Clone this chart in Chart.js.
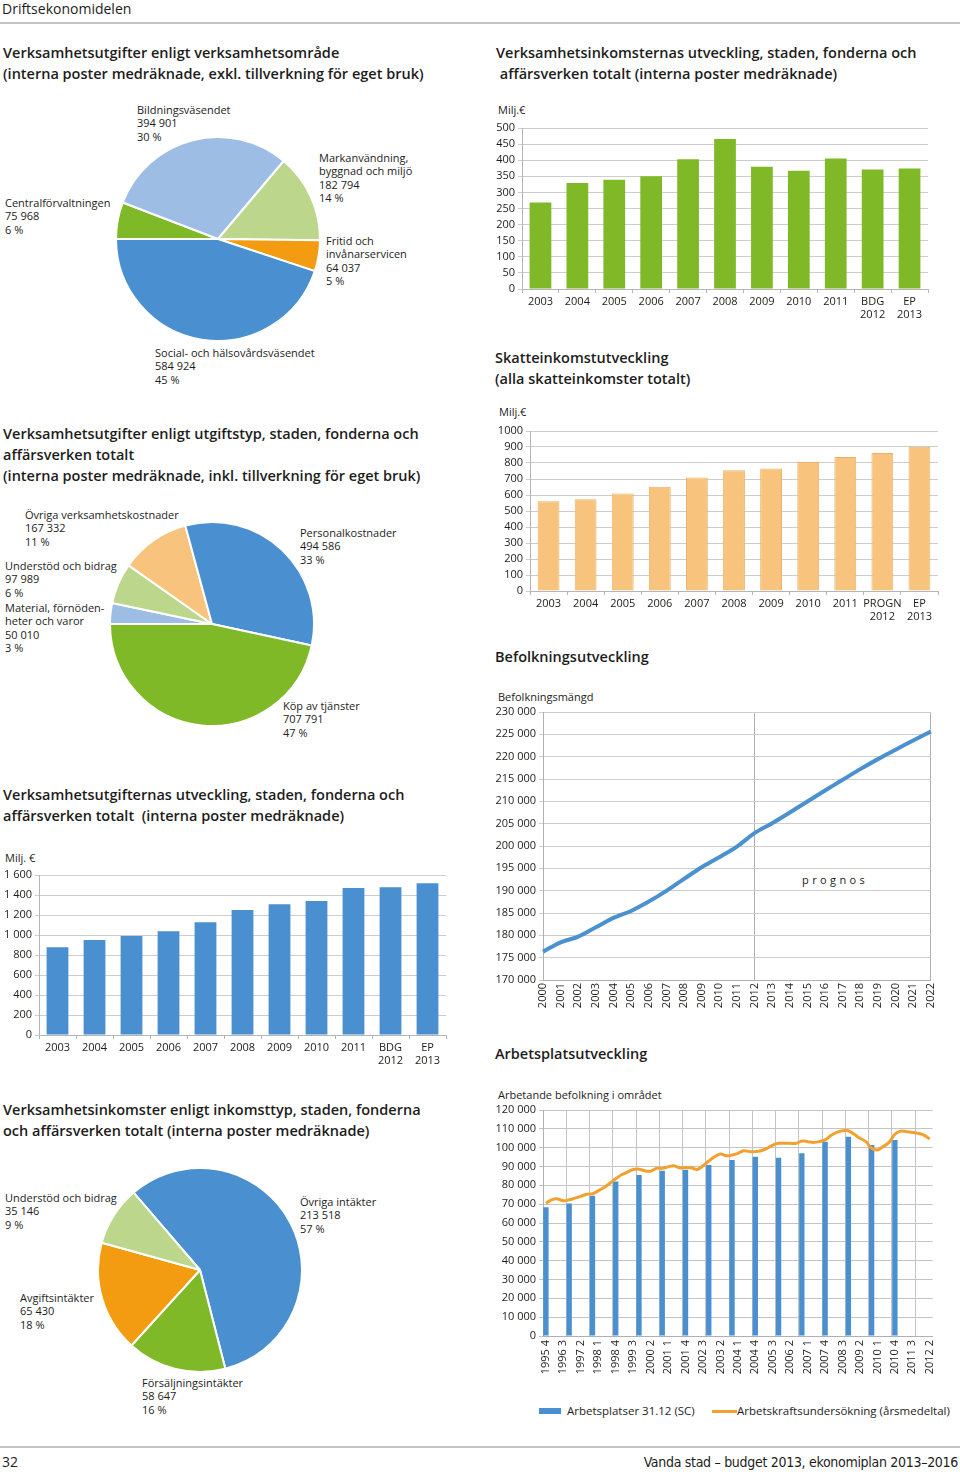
<!DOCTYPE html>
<html>
<head>
<meta charset="utf-8">
<script src="https://cdn.jsdelivr.net/npm/chart.js@4"></script>
<style>
  html, body { margin: 0; padding: 0; background: #fff; }
  body { width: 960px; height: 1475px; position: relative; overflow: hidden;
         font-family: "Open Sans", sans-serif; color: #1d1d1b; }
  .abs { position: absolute; white-space: nowrap; }
  .title { font-size: 14.5px; font-weight: 600; line-height: 21px; }
  .lbl { font-size: 11px; line-height: 13.4px; }
  .ax { font-size: 11px; line-height: 14px; }
  canvas { position: absolute; }
  .rule { position: absolute; left: 0; width: 960px; height: 2px; background: #c4c4c4; }
</style>
</head>
<body>

<div class="abs" style="left:2px;top:0px;font-size:14px;line-height:18px;">Driftsekonomidelen</div>
<div class="rule" style="top:22px;"></div>

<div class="abs title" style="left:3px;top:42px;">Verksamhetsutgifter enligt verksamhetsområde<br>(interna poster medräknade, exkl. tillverkning för eget bruk)</div>
<div class="abs title" style="left:496px;top:42px;">Verksamhetsinkomsternas utveckling, staden, fonderna och<br>&nbsp;affärsverken totalt (interna poster medräknade)</div>

<div class="abs lbl" style="left:137px;top:103px;">Bildningsväsendet<br>394 901<br>30 %</div>
<div class="abs lbl" style="left:319px;top:151px;">Markanvändning,<br>byggnad och miljö<br>182 794<br>14 %</div>
<div class="abs lbl" style="left:5px;top:196px;">Centralförvaltningen<br>75 968<br>6 %</div>
<div class="abs lbl" style="left:326px;top:234px;">Fritid och<br>invånarservicen<br>64 037<br>5 %</div>
<div class="abs lbl" style="left:155px;top:346px;">Social- och hälsovårdsväsendet<br>584 924<br>45 %</div>

<div class="abs ax" style="left:498px;top:103px;">Milj.€</div>
<div class="abs title" style="left:495px;top:347px;">Skatteinkomstutveckling<br>(alla skatteinkomster totalt)</div>
<div class="abs ax" style="left:499px;top:405px;">Milj.€</div>

<div class="abs title" style="left:3px;top:423px;">Verksamhetsutgifter enligt utgiftstyp, staden, fonderna och<br>affärsverken totalt<br>(interna poster medräknade, inkl. tillverkning för eget bruk)</div>

<div class="abs lbl" style="left:25px;top:508px;">Övriga verksamhetskostnader<br>167 332<br>11 %</div>
<div class="abs lbl" style="left:5px;top:559px;">Understöd och bidrag<br>97 989<br>6 %</div>
<div class="abs lbl" style="left:5px;top:601px;">Material, förnöden-<br>heter och varor<br>50 010<br>3 %</div>
<div class="abs lbl" style="left:300px;top:526px;">Personalkostnader<br>494 586<br>33 %</div>
<div class="abs lbl" style="left:283px;top:699px;">Köp av tjänster<br>707 791<br>47 %</div>

<div class="abs title" style="left:495px;top:646px;">Befolkningsutveckling</div>
<div class="abs ax" style="left:498px;top:690px;">Befolkningsmängd</div>
<div class="abs ax" style="left:802px;top:873px;letter-spacing:3.4px;">prognos</div>

<div class="abs title" style="left:3px;top:784px;">Verksamhetsutgifternas utveckling, staden, fonderna och<br>affärsverken totalt&nbsp; (interna poster medräknade)</div>
<div class="abs ax" style="left:5px;top:851px;">Milj. €</div>

<div class="abs title" style="left:495px;top:1043px;">Arbetsplatsutveckling</div>
<div class="abs ax" style="left:498px;top:1088px;">Arbetande befolkning i området</div>

<div class="abs title" style="left:3px;top:1099px;">Verksamhetsinkomster enligt inkomsttyp, staden, fonderna<br>och affärsverken totalt (interna poster medräknade)</div>

<div class="abs lbl" style="left:5px;top:1191px;">Understöd och bidrag<br>35 146<br>9 %</div>
<div class="abs lbl" style="left:300px;top:1195px;">Övriga intäkter<br>213 518<br>57 %</div>
<div class="abs lbl" style="left:20px;top:1291px;">Avgiftsintäkter<br>65 430<br>18 %</div>
<div class="abs lbl" style="left:142px;top:1376px;">Försäljningsintäkter<br>58 647<br>16 %</div>

<div class="abs" style="left:539px;top:1408px;width:22px;height:6px;background:#4a8fd0;"></div>
<div class="abs ax" style="left:567px;top:1404px;font-size:11.5px;">Arbetsplatser 31.12 (SC)</div>
<div class="abs" style="left:712px;top:1410px;width:25px;height:3px;background:#f2a12e;"></div>
<div class="abs ax" style="left:737px;top:1404px;font-size:11.5px;">Arbetskraftsundersökning (årsmedeltal)</div>

<div class="rule" style="top:1446px;height:1.5px;"></div>
<div class="abs" style="left:2px;top:1453px;font-size:14px;line-height:18px;">32</div>
<div class="abs" style="right:2px;top:1453px;font-size:14px;line-height:18px;font-family:'DejaVu Sans Condensed','DejaVu Sans';font-stretch:condensed;letter-spacing:-0.3px;">Vanda stad – budget 2013, ekonomiplan 2013–2016</div>

<canvas id="pieArea" width="212" height="212" style="left:112px;top:133px;"></canvas>
<canvas id="incomeBars" width="440" height="205" style="left:490px;top:118px;"></canvas>
<canvas id="taxBars" width="450" height="205" style="left:490px;top:421px;"></canvas>
<canvas id="pieCost" width="212" height="212" style="left:106px;top:518px;"></canvas>
<canvas id="popLine" width="457" height="315" style="left:490px;top:702px;"></canvas>
<canvas id="expBars" width="448" height="205" style="left:0px;top:865px;"></canvas>
<canvas id="jobsChart" width="457" height="290" style="left:490px;top:1100px;"></canvas>
<canvas id="pieIncome" width="212" height="212" style="left:94px;top:1164px;"></canvas>

<script>
// --- data ---
const areaNames = ['Centralförvaltningen', 'Bildningsväsendet', 'Markanvändning, byggnad och miljö', 'Fritid och invånarservicen', 'Social- och hälsovårdsväsendet'];
const areaValues = [75968, 394901, 182794, 64037, 584924];

const costNames = ['Material, förnödenheter och varor', 'Understöd och bidrag', 'Övriga verksamhetskostnader', 'Personalkostnader', 'Köp av tjänster'];
const costValues = [50010, 97989, 167332, 494586, 707791];

const incomeTypeNames = ['Övriga intäkter', 'Försäljningsintäkter', 'Avgiftsintäkter', 'Understöd och bidrag'];
const incomeTypeValues = [213518, 58647, 65430, 35146];

const budgetYears = ['2003', '2004', '2005', '2006', '2007', '2008', '2009', '2010', '2011', ['BDG', '2012'], ['EP', '2013']];
const taxYears = ['2003', '2004', '2005', '2006', '2007', '2008', '2009', '2010', '2011', ['PROGN', '2012'], ['EP', '2013']];
const incomeValues = [269, 329, 339, 350, 403, 466, 380, 367, 405, 371, 374];
const taxValues = [561, 574, 609, 651, 709, 755, 765, 807, 838, 862, 902];
const expenseValues = [877, 950, 990, 1037, 1127, 1250, 1307, 1340, 1470, 1477, 1518];

const popYears = ['2000', '2001', '2002', '2003', '2004', '2005', '2006', '2007', '2008', '2009', '2010', '2011',
  '2012', '2013', '2014', '2015', '2016', '2017', '2018', '2019', '2020', '2021', '2022'];
const popValues = [176350, 178440, 179710, 181800, 183900, 185460, 187550, 189950, 192630, 195250, 197490, 199880,
  202870, 205110, 207500, 209960, 212430, 214820, 217210, 219450, 221540, 223630, 225650];

// jobs: year-end bars 1995..2010, labour force survey per quarter 1995 Q4 .. 2012 Q2
const jobYears = [1995, 1996, 1997, 1998, 1999, 2000, 2001, 2002, 2003, 2004, 2005, 2006, 2007, 2008, 2009, 2010];
const jobValues = [68300, 70400, 74500, 82000, 85500, 87800, 88300, 90800, 93500, 95200, 94700, 97000, 103200, 105800, 101400, 104100];
const surveyValues = [70500, 72300, 72800, 71800, 72300, 73200, 74100, 75300, 75500, 77100, 78800, 81100,
  83500, 85600, 87000, 88400, 88600, 87700, 87500, 89000, 89000, 89800, 90400, 89300,
  89500, 89300, 88400, 90400, 92900, 95200, 96600, 95700, 96100, 97000, 98400, 97900,
  97900, 98400, 99600, 101400, 102300, 102300, 102300, 102300, 103500, 103200, 102800, 103200,
  104100, 106400, 108100, 109000, 109000, 107100, 105000, 103200, 99700, 98800, 100600, 102800,
  107100, 108800, 108500, 108100, 107600, 106700, 104600];

const BLUE = '#4a8fd0', GREEN = '#80b928', LBLUE = '#9dbde4', LGREEN = '#bcd68b', ORANGE = '#f39c12', LORANGE = '#f8c37c';

Chart.defaults.font.family = "'Open Sans', sans-serif";
Chart.defaults.font.size = 11;
Chart.defaults.color = '#1d1d1b';
Chart.defaults.animation = false;
Chart.defaults.events = [];
Chart.defaults.plugins.legend.display = false;
Chart.defaults.plugins.tooltip.enabled = false;

const fmt = v => String(v).replace(/\B(?=(\d{3})+(?!\d))/g, ' ');
const plain = v => String(v);

function pie(id, values, colors, rotation) {
  new Chart(document.getElementById(id), {
    type: 'pie',
    data: { datasets: [{ data: values, backgroundColor: colors, borderColor: '#fff', borderWidth: 2, hoverOffset: 0 }] },
    options: { responsive: false, rotation: rotation, radius: 102, layout: { padding: 0 } }
  });
}

function bars(id, labels, values, color, yMax, step, yWidth, xHeight, tickFmt, border) {
  new Chart(document.getElementById(id), {
    type: 'bar',
    data: { labels: labels, datasets: [{ data: values, backgroundColor: color,
      borderColor: border || color, borderWidth: border ? 1 : 0, barPercentage: 0.62, categoryPercentage: 0.95 }] },
    options: {
      responsive: false,
      layout: { padding: { top: 10, right: 2, left: 0, bottom: 0 } },
      scales: {
        x: {
          grid: { drawOnChartArea: false, offset: true, tickLength: 4, color: '#b5b5b5' },
          border: { color: '#b5b5b5' },
          ticks: { padding: 2, maxRotation: 0, autoSkip: false },
          afterFit: s => { s.height = xHeight; }
        },
        y: {
          min: 0, max: yMax,
          ticks: { stepSize: step, padding: 3, autoSkip: false, callback: v => tickFmt(v) },
          grid: { color: '#cdcdcd', tickLength: 4 },
          border: { color: '#b5b5b5' },
          afterFit: s => { s.width = yWidth; }
        }
      }
    }
  });
}

pie('pieArea', areaValues, [GREEN, LBLUE, LGREEN, ORANGE, BLUE], 270);
pie('pieCost', costValues, [LBLUE, LGREEN, LORANGE, BLUE, GREEN], 270);
pie('pieIncome', incomeTypeValues, [BLUE, GREEN, ORANGE, LGREEN], 319.4);

bars('incomeBars', budgetYears, incomeValues, GREEN, 500, 50, 32, 34, plain);
bars('taxBars', taxYears, taxValues, LORANGE, 1000, 100, 40, 35, plain, '#e9b46a');
bars('expBars', budgetYears, expenseValues, BLUE, 1600, 200, 39, 35, fmt);

// population
new Chart(document.getElementById('popLine'), {
  type: 'line',
  data: { labels: popYears, datasets: [{ data: popValues, borderColor: '#4b90cf', borderWidth: 4,
    pointRadius: 0, tension: 0.35, fill: false }] },
  options: {
    responsive: false,
    layout: { padding: { top: 10, right: 2, left: 0, bottom: 0 } },
    scales: {
      x: {
        offset: false,
        grid: { color: c => [0, 12, 22].includes(c.index) ? '#b0b0b0' : 'rgba(0,0,0,0)', drawTicks: false },
        border: { color: '#b0b0b0' },
        ticks: { autoSkip: false, maxRotation: 90, minRotation: 90, padding: 3 },
        afterFit: s => { s.height = 37; }
      },
      y: {
        min: 170000, max: 230000,
        ticks: { stepSize: 5000, padding: 3, autoSkip: false, callback: v => fmt(v) },
        grid: { color: '#cdcdcd', tickLength: 4 },
        border: { color: '#b0b0b0' },
        afterFit: s => { s.width = 53; }
      }
    }
  }
});

// jobs
const quarters = [];
for (let y = 1995, q = 4; quarters.length < surveyValues.length; ) {
  quarters.push(y + ' ' + q);
  q++; if (q > 4) { q = 1; y++; }
}
const jobSeries = quarters.map(() => null);
jobYears.forEach((yr, i) => { jobSeries[quarters.indexOf(yr + ' 4')] = jobValues[i]; });

new Chart(document.getElementById('jobsChart'), {
  type: 'bar',
  data: {
    labels: quarters,
    datasets: [
      { type: 'line', label: 'Arbetskraftsundersökning (årsmedeltal)', data: surveyValues, borderColor: '#f2a12e',
        borderWidth: 3, pointRadius: 0, tension: 0.35, fill: false },
      { label: 'Arbetsplatser 31.12 (SC)', data: jobSeries, backgroundColor: BLUE,
        barPercentage: 0.92, categoryPercentage: 1, skipNull: true }
    ]
  },
  options: {
    responsive: false,
    layout: { padding: { top: 10, right: 2, left: 0, bottom: 0 } },
    scales: {
      x: {
        offset: true,
        grid: { offset: true, drawTicks: false,
          color: c => (c.index % 4 === 0 || c.index === quarters.length) ? '#c4c4c4' : 'rgba(0,0,0,0)' },
        border: { color: '#b0b0b0' },
        ticks: { autoSkip: false, maxRotation: 90, minRotation: 90, padding: 4,
          callback: function (v, i) { return i % 3 === 0 ? this.getLabelForValue(v) : ''; } },
        afterFit: s => { s.height = 54; }
      },
      y: {
        min: 0, max: 120000,
        ticks: { stepSize: 10000, padding: 3, autoSkip: false, callback: v => fmt(v) },
        grid: { color: '#c4c4c4', tickLength: 4 },
        border: { color: '#b0b0b0' },
        afterFit: s => { s.width = 53; }
      }
    }
  }
});
</script>
</body>
</html>
